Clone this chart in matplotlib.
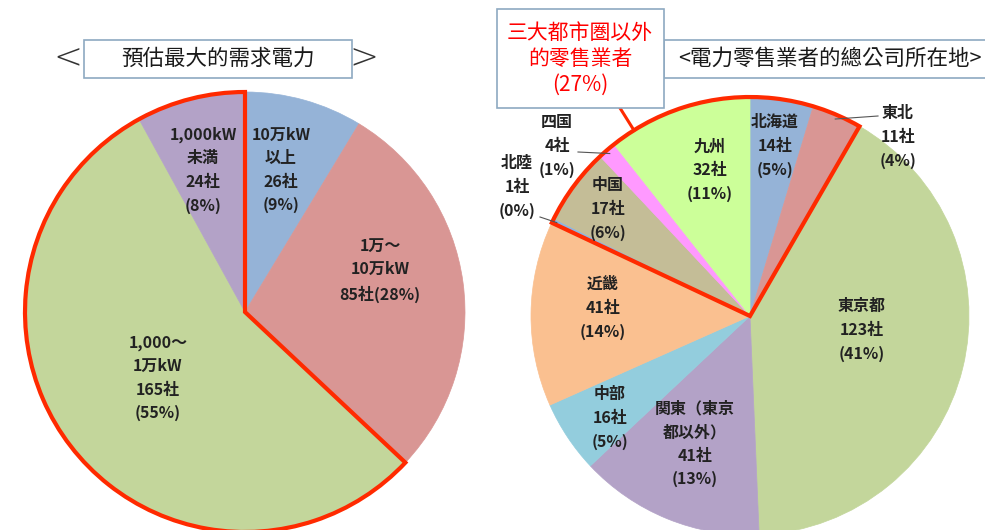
import numpy as np
import matplotlib
matplotlib.use("Agg")
import matplotlib.pyplot as plt
from matplotlib.patches import Wedge, Rectangle

# ---------------- data ----------------
left_title = "預估最大的需求電力"
left_cats = ["10万kW\n以上", "1万～\n10万kW", "1,000～\n1万kW", "1,000kW\n未満"]
left_counts = [26, 85, 165, 24]
left_pcts = [9, 28, 55, 8]
left_colors = ["#95B3D7", "#D99694", "#C3D69B", "#B3A2C7"]
left_highlight = [False, False, True, True]

right_title = "<電力零售業者的總公司所在地>"
right_cats = ["北海道", "東北", "東京都", "関東（東京\n都以外）", "中部", "近畿",
              "北陸", "中国", "四国", "九州"]
right_counts = [14, 11, 123, 41, 16, 41, 1, 17, 4, 32]
right_pcts = [5, 4, 41, 13, 5, 14, 0, 6, 1, 11]
right_colors = ["#95B3D7", "#D99694", "#C3D69B", "#B3A2C7", "#93CDDD", "#FAC090",
                "#8EB4E3", "#C4BD97", "#FF99FF", "#CCFF99"]
right_highlight = [True, True, False, False, False, False, True, True, True, True]
callout_text = "三大都市圏以外\n的零售業者\n(27%)"

# ---------------- layout ----------------
W, H = 985, 530
fig = plt.figure(figsize=(W / 100, H / 100), dpi=100)
ax = fig.add_axes([0, 0, 1, 1])
ax.set_xlim(0, W)
ax.set_ylim(0, H)
ax.set_aspect("equal")
ax.axis("off")

def Y(y):
    return H - y

LFONT = ["Noto Sans CJK JP", "DejaVu Sans"]
TFONT = ["Noto Sans CJK TC", "DejaVu Sans"]
RED = "#FF2A00"
TXT = "#222222"

L_C, L_R = (245, Y(312)), 220
R_C, R_R = (750, Y(316)), 219


def draw_pie(values, colors, center, radius, highlight):
    wedges, _ = ax.pie(values, colors=colors, startangle=90, counterclock=False,
                       center=center, radius=radius, frame=True)
    for w, c in zip(wedges, colors):
        w.set_edgecolor(c)
        w.set_linewidth(0.5)
    total = float(sum(values))
    cum = np.concatenate([[0], np.cumsum(values)]) / total * 360.0
    starts = 90 - cum[:-1]
    ends = 90 - cum[1:]
    idx = [i for i, h in enumerate(highlight) if h]
    n = len(values)
    first = [i for i in idx if not highlight[(i - 1) % n]][0]
    last = [i for i in idx if not highlight[(i + 1) % n]][0]
    theta1 = ends[last]
    theta2 = starts[first]
    while theta2 <= theta1:
        theta2 += 360
    ax.add_patch(Wedge(center, radius, theta1, theta2, fill=False,
                       edgecolor=RED, linewidth=3, joinstyle="miter", zorder=5))
    return (starts + ends) / 2


def pt(center, radius, ang):
    a = np.deg2rad(ang)
    return center[0] + radius * np.cos(a), center[1] + radius * np.sin(a)


LABEL_FS = 11.5
LS = 1.58

# ---- left pie ----
lm = draw_pie(left_counts, left_colors, L_C, L_R, left_highlight)
ax.set_xlim(0, W)
ax.set_ylim(0, H)
left_label_pos = [(281, 170), (380, 270), (158, 378), (203, 170)]
for i, (c, n_, p) in enumerate(zip(left_cats, left_counts, left_pcts)):
    if i == 1:
        s = f"{c}\n{n_}社({p}%)"
    else:
        s = f"{c}\n{n_}社\n({p}%)"
    x, y = left_label_pos[i]
    ax.text(x, Y(y), s, ha="center", va="center", fontsize=LABEL_FS,
            family=LFONT, fontweight="bold", color=TXT, linespacing=LS, zorder=6)

# ---- right pie ----
rm = draw_pie(right_counts, right_colors, R_C, R_R, right_highlight)
ax.set_xlim(0, W)
ax.set_ylim(0, H)
right_label_pos = [(775, 146), (898, 137), (862, 330), (695, 444), (610, 418),
                   (603, 308), (517, 187), (608, 209), (557, 146), (710, 170)]
for i, (c, n_, p) in enumerate(zip(right_cats, right_counts, right_pcts)):
    s = f"{c}\n{n_}社\n({p}%)"
    x, y = right_label_pos[i]
    ax.text(x, Y(y), s, ha="center", va="center", fontsize=LABEL_FS,
            family=LFONT, fontweight="bold", color=TXT, linespacing=LS, zorder=6)

# leader lines for small slices
leader_ends = {1: (878, 116), 8: (578, 152), 6: (540, 217)}
for i, (ex, ey) in leader_ends.items():
    px, py = pt(R_C, R_R * 0.98, rm[i])
    ax.plot([px, ex], [py, Y(ey)], color="#555555", lw=0.8, zorder=6)

# ---- titles ----
ax.add_patch(Rectangle((84, Y(78)), 268, 38, facecolor="white",
                       edgecolor="#8EA9C1", lw=1.2, zorder=4))
ax.text(218, Y(59), left_title, ha="center", va="center", fontsize=15.5,
        family=TFONT, color="#1a1a1a", zorder=6)
ax.text(68, Y(58), "<", ha="center", va="center", fontsize=25,
        family=["DejaVu Sans"], fontweight="light", color="#333333")
ax.text(364, Y(58), ">", ha="center", va="center", fontsize=25,
        family=["DejaVu Sans"], fontweight="light", color="#333333")

ax.add_patch(Rectangle((664, Y(78)), 340, 38, facecolor="white",
                       edgecolor="#8EA9C1", lw=1.2, zorder=4, clip_on=False))
ax.text(830, Y(59), right_title, ha="center", va="center", fontsize=15.5,
        family=TFONT, color="#1a1a1a", zorder=6)

# callout
ax.add_patch(Rectangle((497, Y(108)), 167, 99, facecolor="white",
                       edgecolor="#8EA9C1", lw=1.2, zorder=7))
ax.text(580, Y(59), callout_text, ha="center", va="center", fontsize=15,
        family=TFONT, color="#FF0000", linespacing=1.25, zorder=8)
cx, cy = pt(R_C, R_R, 122)
ax.plot([620, cx], [Y(108), cy], color=RED, lw=2.2, zorder=6)

fig.savefig("out.png", dpi=100)
